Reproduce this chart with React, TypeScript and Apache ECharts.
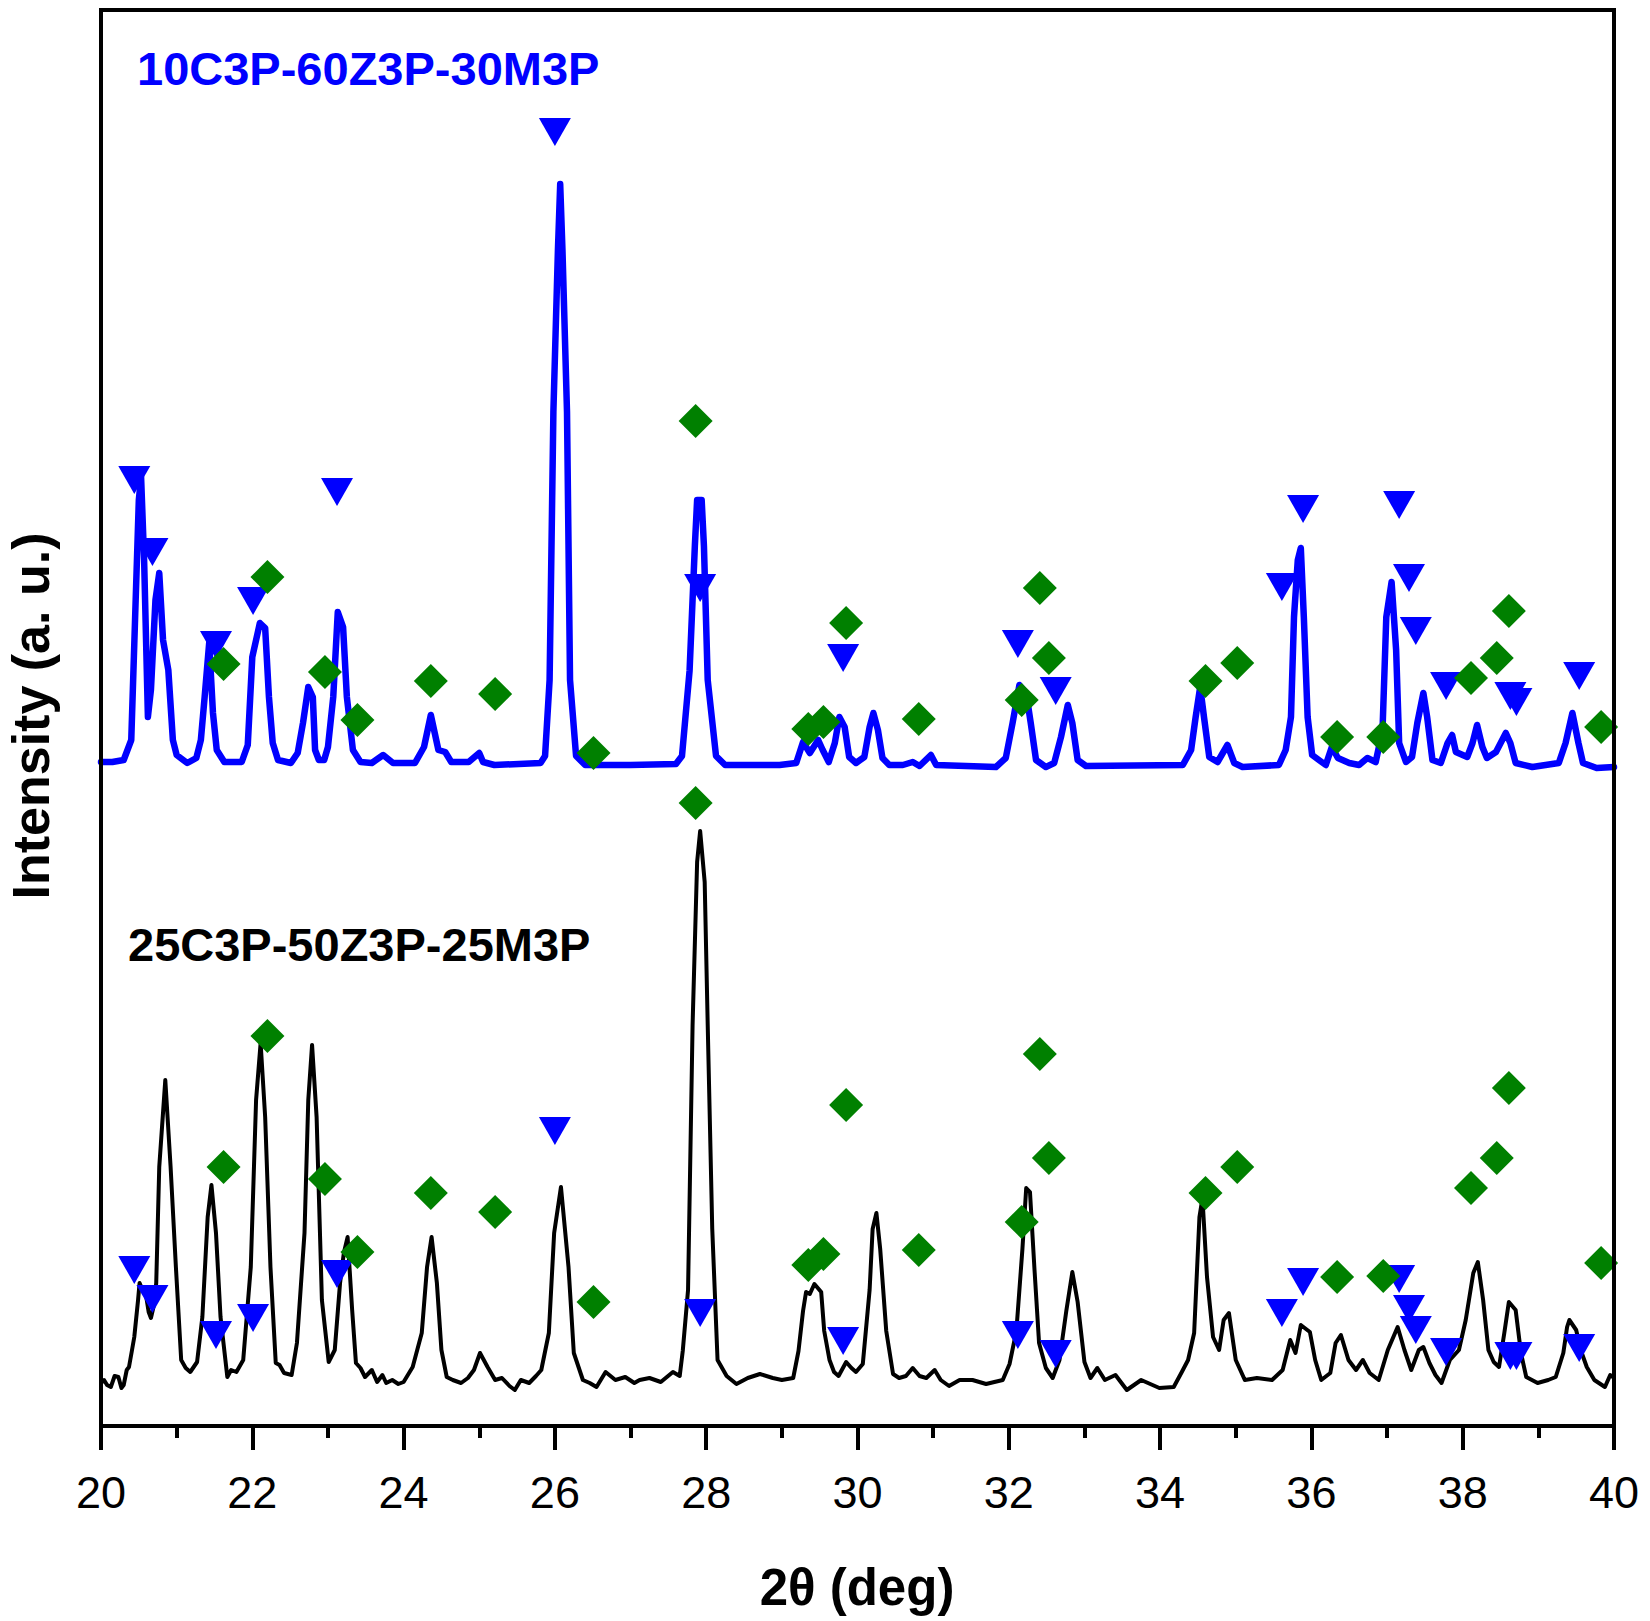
import React, { useEffect, useRef } from "react";
import * as echarts from "echarts";

// 10C3P-60Z3P-30M3P pattern (offset upward, a.u.)
const blueTheta = [20.00,20.15,20.30,20.40,20.45,20.50,20.53,20.57,20.62,20.66,20.72,20.77,20.82,20.89,20.95,21.00,21.14,21.26,21.32,21.37,21.43,21.48,21.53,21.63,21.86,21.94,22.00,22.10,22.17,22.22,22.27,22.34,22.51,22.60,22.67,22.74,22.80,22.83,22.88,22.95,23.00,23.07,23.13,23.20,23.25,23.33,23.43,23.58,23.73,23.86,24.15,24.27,24.36,24.46,24.55,24.63,24.86,25.00,25.05,25.20,25.81,25.87,25.93,25.98,26.04,26.07,26.10,26.16,26.20,26.28,26.40,27.00,27.60,27.68,27.78,27.85,27.88,27.94,27.97,28.02,28.13,28.25,28.97,29.19,29.28,29.37,29.48,29.54,29.62,29.70,29.76,29.83,29.89,29.98,30.09,30.16,30.21,30.27,30.33,30.42,30.60,30.73,30.82,30.97,31.04,31.83,31.96,32.05,32.14,32.23,32.29,32.36,32.49,32.60,32.69,32.78,32.84,32.91,33.02,34.30,34.41,34.47,34.53,34.58,34.65,34.76,34.89,34.98,35.09,35.57,35.66,35.73,35.77,35.82,35.86,35.90,35.95,36.01,36.19,36.27,36.35,36.50,36.63,36.74,36.85,36.94,36.99,37.06,37.12,37.16,37.25,37.33,37.40,37.48,37.53,37.60,37.71,37.80,37.86,37.91,38.06,38.13,38.19,38.26,38.32,38.44,38.57,38.63,38.70,38.92,39.27,39.36,39.45,39.53,39.59,39.77,40.00];
const blueIntensity = [664,664,666,686,806,926,949,866,709,736,826,853,786,756,686,671,663,668,686,729,783,713,676,664,664,681,769,803,798,729,683,666,663,673,703,739,729,676,666,666,679,729,814,799,729,676,664,663,671,663,663,679,711,676,674,664,664,673,664,661,663,670,746,1014,1176,1242,1176,1014,746,670,661,661,662,670,755,880,926,926,880,746,670,661,661,663,684,673,686,676,664,683,709,699,669,663,669,699,713,696,668,661,661,664,660,671,661,659,668,703,741,733,703,666,659,663,689,721,703,666,660,661,676,709,739,709,669,664,681,663,659,661,676,709,809,866,878,809,709,671,661,679,668,663,661,668,664,696,809,844,776,683,664,669,703,733,709,666,663,683,691,674,669,683,701,679,668,674,693,683,663,659,663,683,713,683,663,658,659];

// 25C3P-50Z3P-25M3P pattern (a.u.)
const blackTheta = [20.00,20.04,20.08,20.13,20.18,20.23,20.27,20.30,20.34,20.37,20.41,20.44,20.49,20.51,20.55,20.59,20.63,20.66,20.70,20.73,20.77,20.85,20.92,20.99,21.06,21.12,21.18,21.27,21.34,21.41,21.46,21.52,21.58,21.67,21.72,21.79,21.88,21.98,22.05,22.11,22.17,22.24,22.31,22.36,22.42,22.52,22.59,22.69,22.74,22.79,22.85,22.92,23.01,23.09,23.16,23.21,23.26,23.32,23.37,23.43,23.49,23.58,23.65,23.72,23.77,23.85,23.93,24.00,24.12,24.24,24.31,24.37,24.44,24.50,24.57,24.65,24.76,24.85,24.93,25.01,25.11,25.21,25.30,25.40,25.47,25.55,25.66,25.75,25.82,25.92,25.99,26.08,26.18,26.25,26.37,26.46,26.55,26.67,26.80,26.93,27.05,27.12,27.25,27.40,27.56,27.65,27.69,27.76,27.82,27.88,27.92,27.98,28.02,28.08,28.15,28.27,28.40,28.55,28.71,28.88,29.00,29.15,29.22,29.28,29.32,29.37,29.43,29.52,29.56,29.63,29.69,29.75,29.85,29.92,29.98,30.07,30.16,30.20,30.25,30.30,30.38,30.47,30.55,30.64,30.73,30.82,30.91,31.02,31.10,31.21,31.35,31.52,31.70,31.92,32.01,32.10,32.18,32.23,32.28,32.34,32.40,32.49,32.58,32.67,32.76,32.84,32.91,33.00,33.08,33.17,33.27,33.41,33.56,33.75,33.99,34.18,34.28,34.37,34.45,34.52,34.56,34.62,34.70,34.78,34.84,34.91,35.00,35.12,35.28,35.48,35.62,35.72,35.79,35.86,35.98,36.05,36.13,36.25,36.32,36.39,36.49,36.59,36.68,36.77,36.89,37.01,37.14,37.23,37.32,37.42,37.48,37.56,37.64,37.72,37.83,37.95,38.04,38.14,38.20,38.27,38.34,38.41,38.48,38.55,38.61,38.70,38.77,38.84,38.99,39.13,39.23,39.33,39.38,39.41,39.50,39.56,39.64,39.74,39.88,39.95,40.00];
const blackIntensity = [43,46,41,39,50,49,38,41,56,59,76,89,126,143,136,133,114,108,121,143,259,346,259,159,66,58,54,64,109,209,241,193,109,49,56,54,66,159,326,383,309,159,63,61,53,51,83,193,326,381,309,126,64,76,143,173,189,116,63,58,49,56,44,51,43,46,42,44,59,93,159,189,143,76,49,46,43,48,56,73,59,46,48,40,36,46,43,50,56,93,193,239,159,73,46,43,39,54,46,49,43,46,48,44,54,50,75,136,401,564,595,544,401,197,66,50,42,48,52,48,46,48,75,115,134,132,142,134,95,66,54,50,64,58,54,62,136,197,213,177,95,52,48,50,58,50,48,56,46,40,46,46,42,46,62,95,177,238,234,156,83,58,48,66,115,154,124,64,48,58,46,51,36,46,38,39,53,66,93,209,228,149,89,76,106,113,66,46,48,46,56,86,73,101,94,66,46,53,83,91,66,56,66,53,46,76,99,76,56,76,79,63,51,43,66,76,106,153,164,126,76,64,59,93,124,116,73,49,43,46,49,73,99,106,96,76,59,46,39,51,48];

// Phase markers: inverted triangles and diamonds
const triTheta = [20.44,20.68,21.52,22.01,23.12,26.00,27.92,29.81,32.12,32.62,35.61,35.89,37.16,37.29,37.38,37.78,38.63,38.71,39.54];
const triUpper = [946,874,781,825,934,1294,838,768,782,735,839,917,921,848,795,740,730,724,750];
const triLower = [156,127,91,108,152,295,113,85,91,72,113,144,147,117,96,74,70,70,78];

const diaTheta = [21.62,22.20,22.96,23.39,24.36,25.21,26.51,27.86,29.35,29.55,29.85,30.81,32.17,32.41,32.53,34.60,35.02,36.34,36.95,38.11,38.45,38.61,39.83];
const diaUpper = [762,849,754,706,745,732,673,1005,697,704,803,707,726,838,768,745,763,689,689,748,768,815,699];
const diaLower = [259,390,247,174,233,214,124,623,161,172,321,176,204,372,268,233,259,149,150,238,268,338,163];

const sampleTop = "10C3P-60Z3P-30M3P";
const sampleBottom = "25C3P-50Z3P-25M3P";
const xTitle = "2θ (deg)";
const yTitle = "Intensity (a. u.)";

const zip = (xs: number[], ys: number[]) => xs.map((x, i) => [x, ys[i]]);

const FONT = '"Liberation Sans", Arial, Helvetica, sans-serif';

export default function App() {
  const ref = useRef<HTMLDivElement>(null);
  useEffect(() => {
    if (!ref.current) return;
    const chart = echarts.init(ref.current, undefined, { renderer: "svg" });
    chart.setOption({
      animation: false,
      backgroundColor: "#ffffff",
      grid: {
        left: 101,
        right: 36,
        top: 10,
        bottom: 195,
        show: true,
        borderColor: "#000",
        borderWidth: 4,
        z: 10,
      },
      xAxis: {
        type: "value",
        min: 20,
        max: 40,
        interval: 2,
        axisLine: { show: true, onZero: false, lineStyle: { color: "#000", width: 4 } },
        axisTick: { show: true, inside: false, length: 24, lineStyle: { color: "#000", width: 4 } },
        minorTick: { show: true, splitNumber: 2, length: 12, lineStyle: { color: "#000", width: 4 } },
        splitLine: { show: false },
        axisLabel: {
          color: "#000",
          fontSize: 45,
          fontFamily: '"Liberation Sans Narrow", "Liberation Sans", Arial, sans-serif',
          margin: 44,
        },
      },
      yAxis: {
        type: "value",
        min: 0,
        max: 1416,
        axisLine: { show: true, lineStyle: { color: "#000", width: 4 } },
        axisTick: { show: false },
        axisLabel: { show: false },
        splitLine: { show: false },
      },
      graphic: [
        {
          type: "text",
          x: 137,
          y: 68,
          style: { text: sampleTop, fill: "#0000ff", font: `bold 47px ${FONT}`, align: "left", verticalAlign: "middle" },
        },
        {
          type: "text",
          x: 128,
          y: 944,
          style: { text: sampleBottom, fill: "#000000", font: `bold 47px ${FONT}`, align: "left", verticalAlign: "middle" },
        },
        {
          type: "text",
          x: 857,
          y: 1587,
          style: { text: xTitle, fill: "#000", font: `bold 51px ${FONT}`, align: "center", verticalAlign: "middle" },
        },
        {
          type: "text",
          x: 31,
          y: 716,
          rotation: Math.PI / 2,
          style: { text: yTitle, fill: "#000", font: `bold 52px ${FONT}`, align: "center", verticalAlign: "middle" },
        },
      ],
      series: [
        {
          name: sampleTop,
          type: "line",
          data: zip(blueTheta, blueIntensity),
          showSymbol: false,
          lineStyle: { color: "#0000ff", width: 6.5, join: "round", cap: "round" },
          z: 2,
        },
        {
          name: sampleBottom,
          type: "line",
          data: zip(blackTheta, blackIntensity),
          showSymbol: false,
          lineStyle: { color: "#000000", width: 4, join: "round", cap: "round" },
          z: 2,
        },
        {
          name: "triangle-top",
          type: "scatter",
          data: zip(triTheta, triUpper),
          symbol: "triangle",
          symbolRotate: 180,
          symbolSize: [32, 28],
          itemStyle: { color: "#0000ff", opacity: 1 },
          z: 3,
        },
        {
          name: "triangle-bottom",
          type: "scatter",
          data: zip(triTheta, triLower),
          symbol: "triangle",
          symbolRotate: 180,
          symbolSize: [32, 28],
          itemStyle: { color: "#0000ff", opacity: 1 },
          z: 3,
        },
        {
          name: "diamond-top",
          type: "scatter",
          data: zip(diaTheta, diaUpper),
          symbol: "diamond",
          symbolSize: [34, 34],
          itemStyle: { color: "#008000", opacity: 1 },
          z: 4,
        },
        {
          name: "diamond-bottom",
          type: "scatter",
          data: zip(diaTheta, diaLower),
          symbol: "diamond",
          symbolSize: [34, 34],
          itemStyle: { color: "#008000", opacity: 1 },
          z: 4,
        },
      ],
    });
    return () => chart.dispose();
  }, []);
  return (
    <div
      ref={ref}
      style={{ position: "absolute", left: 0, top: 0, width: 1650, height: 1621, background: "#fff" }}
    />
  );
}
